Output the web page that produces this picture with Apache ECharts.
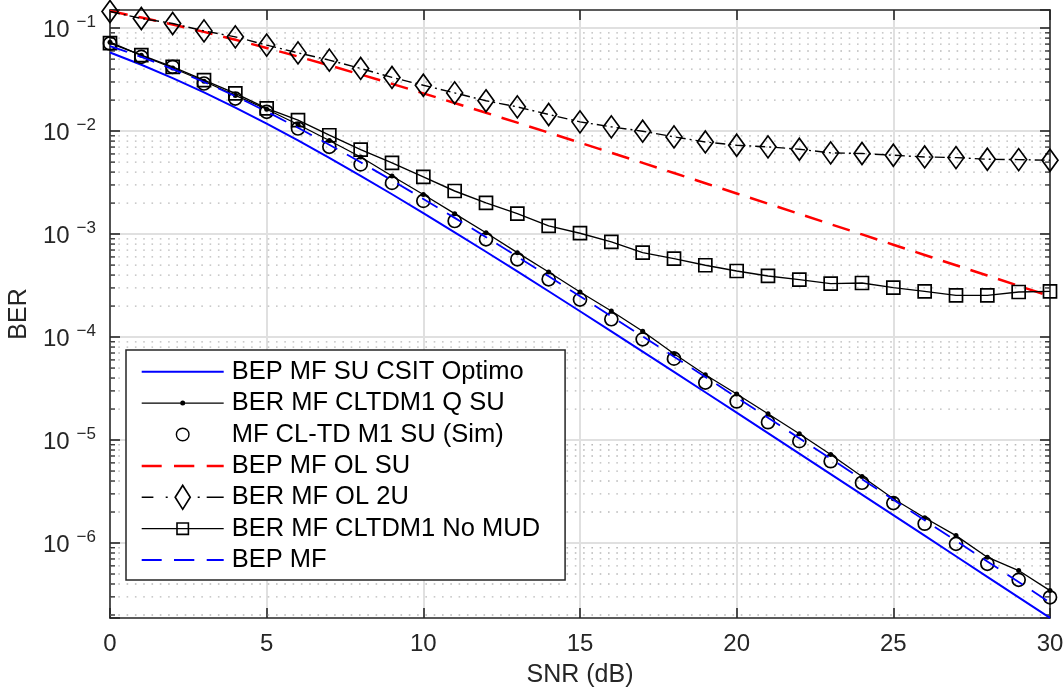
<!DOCTYPE html>
<html><head><meta charset="utf-8">
<script src="https://cdn.jsdelivr.net/npm/echarts@6/dist/echarts.min.js"></script>
<style>html,body{margin:0;padding:0;background:#fff}#c{width:1064px;height:688px}</style>
</head><body><div id="c"></div>
<script>
// ---------- data ----------
const snr = [0,1,2,3,4,5,6,7,8,9,10,11,12,13,14,15,16,17,18,19,20,21,22,23,24,25,26,27,28,29,30];

const bepSuCsitOptimo = [0.05806,0.044113,0.032754,0.023791,0.016932,0.011830,0.0081290,0.0055060,0.0036829,0.0024376,0.0015991,0.0010413,0.00067398,0.00043407,0.00027843,0.00017801,0.00011350,7.2220e-5,4.5885e-5,2.9105e-5,1.8443e-5,1.1675e-5,7.3870e-6,4.6705e-6,2.9520e-6,1.8652e-6,1.1781e-6,7.440e-7,4.6975e-7,2.9655e-7,1.8719e-7];

const berCltdm1QSu = [0.073,0.0545,0.041,0.0305,0.0222,0.0163,0.0116,0.0081,0.0056,0.00367,0.00242,0.00158,0.00103,0.00066,0.000428,0.000274,0.000179,0.000114,6.89e-5,4.3e-5,2.8e-5,1.8e-5,1.15e-5,7.24e-6,4.43e-6,2.69e-6,1.76e-6,1.18e-6,7.28e-7,5.40e-7,3.45e-7];

const mfCltdM1SuSim = [0.0710,0.0526,0.0421,0.0290,0.0207,0.0154,0.0106,0.00703,0.00475,0.00314,0.00210,0.00134,0.00089,0.000569,0.000364,0.000231,0.000149,9.5e-5,6.17e-5,3.61e-5,2.37e-5,1.49e-5,9.75e-6,6.23e-6,3.85e-6,2.44e-6,1.54e-6,9.81e-7,6.28e-7,4.39e-7,2.97e-7];

const bepMfOlSu = [0.146447,0.126734,0.108485,0.091913,0.077137,0.064183,0.052999,0.0434755,0.035459,0.0287825,0.0232687,0.0187485,0.0150645,0.0120775,0.009665,0.007723,0.0061635,0.0049145,0.003916,0.003118,0.0024815,0.001974,0.00157,0.00124825,0.0009923,0.0007887,0.0006268,0.00049808,0.00039576,0.00031444,0.00024981];

const berMfOl2u = [0.145,0.124,0.111,0.094,0.0823,0.0684,0.0575,0.0489,0.0406,0.0332,0.0279,0.0235,0.0197,0.0172,0.0145,0.0123,0.0110,0.00998,0.00879,0.00785,0.00729,0.00703,0.00667,0.00615,0.00606,0.00583,0.00561,0.00553,0.00533,0.00529,0.00521];

const berCltdm1NoMud = [0.0715,0.0547,0.0421,0.0313,0.0232,0.0166,0.0128,0.00912,0.0066,0.00491,0.00359,0.00262,0.00201,0.00158,0.00120,0.00102,0.00084,0.000661,0.000578,0.000498,0.000438,0.000392,0.000361,0.000330,0.000335,0.000302,0.000278,0.000254,0.000254,0.000274,0.000278];

const bepMf = [0.067,0.0525,0.0400,0.03000,0.02185,0.01548,0.01077,0.007373,0.004980,0.003322,0.002194,0.001437,0.000934,0.000604,0.0003886,0.0002489,0.0001591,0.0001014,6.450e-5,4.096e-5,2.597e-5,1.645e-5,1.041e-5,6.586e-6,4.164e-6,2.632e-6,1.663e-6,1.050e-6,6.632e-7,4.188e-7,2.644e-7];

const seriesNames = ['BEP MF SU CSIT Optimo','BER MF CLTDM1 Q SU','MF CL-TD M1 SU (Sim)','BEP MF OL SU','BER MF OL 2U','BER MF CLTDM1 No MUD','BEP MF'];

const xTicks = [0,5,10,15,20,25,30];
const yMin = 1.87e-7, yMax = 0.15;
const minorTicks = [2e-7,3e-7,4e-7,5e-7,6e-7,7e-7,8e-7,9e-7,
  2e-6,3e-6,4e-6,5e-6,6e-6,7e-6,8e-6,9e-6,
  2e-5,3e-5,4e-5,5e-5,6e-5,7e-5,8e-5,9e-5,
  2e-4,3e-4,4e-4,5e-4,6e-4,7e-4,8e-4,9e-4,
  2e-3,3e-3,4e-3,5e-3,6e-3,7e-3,8e-3,9e-3,
  2e-2,3e-2,4e-2,5e-2,6e-2,7e-2,8e-2,9e-2];

// ---------- styling ----------
const AX = '#262626';
const FONT = '"Liberation Sans", Arial, Helvetica, sans-serif';
const pairs = ys => snr.map((x, i) => [x, ys[i]]);

// legend icon paths (box 85 x 28, drawing in 0..82, centre y = 14)
const BOX = 'M0,0 M85,28 ';
const rect = (x0, y0, x1, y1) => `M${x0},${y0} L${x1},${y0} L${x1},${y1} L${x0},${y1} Z `;
const rectCCW = (x0, y0, x1, y1) => `M${x0},${y0} L${x0},${y1} L${x1},${y1} L${x1},${y0} Z `;
const circ = (cx, cy, r) => `M${cx + r},${cy} A${r},${r} 0 1,1 ${cx - r},${cy} A${r},${r} 0 1,1 ${cx + r},${cy} Z `;
const circCCW = (cx, cy, r) => `M${cx + r},${cy} A${r},${r} 0 1,0 ${cx - r},${cy} A${r},${r} 0 1,0 ${cx + r},${cy} Z `;
const dashes = (h) => rect(0, 14 - h, 20, 14 + h) + rect(32.3, 14 - h, 52.6, 14 + h) + rect(65, 14 - h, 82, 14 + h);
const icons = [
  'path://' + BOX + rect(0, 13, 82, 15),
  'path://' + BOX + rect(0, 13.4, 82, 14.6) + circ(41, 14, 2.5),
  'path://' + BOX + circ(41, 14, 7) + circCCW(41, 14, 5.6),
  'path://' + BOX + dashes(1.25),
  'path://' + BOX + rect(0, 13.3, 11.7, 14.7) + rect(24, 13.3, 26, 14.7) +
      'M41,0.5 L49.5,14 L41,27.5 L32.5,14 Z M41,3.6 L34.5,14 L41,24.4 L47.5,14 Z ' +
      rect(56, 13.3, 58, 14.7) + rect(65, 13.3, 82, 14.7),
  'path://' + BOX + rect(0, 13.4, 82, 14.6) + rect(34.5, 7.5, 47.5, 20.5) + rectCCW(36.1, 9.1, 45.9, 18.9),
  'path://' + BOX + dashes(1)
];
const iconColors = ['#0000ff', '#000000', '#000000', '#ff0000', '#000000', '#000000', '#0000ff'];

const hollow = { color: 'rgba(0,0,0,0)', borderColor: '#000', borderWidth: 1.7 };
const common = { type: 'line', silent: true, animation: false, emphasis: { disabled: true } };

const series = [
  Object.assign({}, common, { name: seriesNames[0], data: pairs(bepSuCsitOptimo), symbol: 'none', z: 3,
    lineStyle: { color: '#0000ff', width: 2 }, itemStyle: { color: '#0000ff' } }),
  Object.assign({}, common, { name: seriesNames[1], data: pairs(berCltdm1QSu), symbol: 'circle', symbolSize: 5, z: 4,
    lineStyle: { color: '#000', width: 1.3 }, itemStyle: { color: '#000' } }),
  Object.assign({}, common, { name: seriesNames[2], data: pairs(mfCltdM1SuSim), symbol: 'circle', symbolSize: 13, z: 5,
    lineStyle: { color: '#000', width: 0, opacity: 0 }, itemStyle: hollow }),
  Object.assign({}, common, { name: seriesNames[3], data: pairs(bepMfOlSu), symbol: 'none', z: 3,
    lineStyle: { color: '#ff0000', width: 2.5, type: [18, 11] }, itemStyle: { color: '#ff0000' } }),
  Object.assign({}, common, { name: seriesNames[4], data: pairs(berMfOl2u), symbol: 'diamond', symbolSize: [16, 22], z: 5,
    lineStyle: { color: '#000', width: 1.4, type: [10, 4, 2, 4] }, itemStyle: hollow }),
  Object.assign({}, common, { name: seriesNames[5], data: pairs(berCltdm1NoMud), symbol: 'rect', symbolSize: 13, z: 5,
    lineStyle: { color: '#000', width: 1.4 }, itemStyle: hollow }),
  Object.assign({}, common, { name: seriesNames[6], data: pairs(bepMf), symbol: 'none', z: 6,
    lineStyle: { color: '#0000ff', width: 1.8, type: [18, 11] }, itemStyle: { color: '#0000ff' } }),
  {
    type: 'custom', name: '__minor', silent: true, animation: false, z: 1, clip: false,
    data: minorTicks.map(v => [xTicks[0], v]),
    encode: { x: 0, y: 1 },
    renderItem: (params, api) => {
      const v = api.value(1);
      const a = api.coord([xTicks[0], v]);
      const b = api.coord([xTicks[xTicks.length - 1], v]);
      return { type: 'group', children: [
        { type: 'line', shape: { x1: a[0], y1: a[1], x2: b[0], y2: b[1] },
          style: { stroke: '#b9b9b9', lineWidth: 1.3, lineDash: [1.6, 6.7] } },
        { type: 'line', shape: { x1: a[0], y1: a[1], x2: a[0] + 5, y2: a[1] },
          style: { stroke: AX, lineWidth: 1.3 } },
        { type: 'line', shape: { x1: b[0] - 5, y1: b[1], x2: b[0], y2: b[1] },
          style: { stroke: AX, lineWidth: 1.3 } }
      ] };
    }
  }
];

const axisLine = { show: true, onZero: false, lineStyle: { color: AX, width: 1.6 } };
const axisTick = { show: true, inside: true, length: 10, lineStyle: { color: AX, width: 1.6 } };
const majorGrid = { show: true, showMinLine: false, showMaxLine: false, lineStyle: { color: '#e0e0e0', width: 2 } };

const yLabelFmt = v => {
  const e = Math.log10(v), r = Math.round(e);
  if (Math.abs(e - r) > 1e-6) return '';
  return '{b|10}{s|\u2212' + (-r) + '}';
};

const option = {
  animation: false,
  backgroundColor: '#fff',
  grid: { left: 110, right: 14, top: 10, bottom: 70, outerBoundsMode: 'none', containLabel: false },
  xAxis: [
    { type: 'value', min: xTicks[0], max: xTicks[xTicks.length - 1], interval: xTicks[1] - xTicks[0], position: 'bottom',
      axisLine, axisTick, splitLine: majorGrid,
      axisLabel: { color: AX, fontFamily: FONT, fontSize: 24, margin: 14 },
      name: 'SNR (dB)', nameLocation: 'middle', nameGap: 45,
      nameTextStyle: { color: AX, fontFamily: FONT, fontSize: 25 } },
    { type: 'value', min: xTicks[0], max: xTicks[xTicks.length - 1], interval: xTicks[1] - xTicks[0], position: 'top',
      axisLine, axisTick, splitLine: { show: false }, axisLabel: { show: false } }
  ],
  yAxis: [
    { type: 'log', logBase: 10, min: yMin, max: yMax, position: 'left',
      axisLine, axisTick, splitLine: majorGrid,
      axisLabel: { formatter: yLabelFmt, margin: 14, color: AX,
        rich: {
          b: { fontSize: 24, fontFamily: FONT, color: AX, padding: [5, 0, 0, 0], verticalAlign: 'bottom' },
          s: { fontSize: 17, fontFamily: FONT, color: AX, padding: [0, 0, 10, 7], verticalAlign: 'top' }
        } },
      name: 'BER', nameLocation: 'middle', nameGap: 76,
      nameTextStyle: { color: AX, fontFamily: FONT, fontSize: 25 } },
    { type: 'log', logBase: 10, min: yMin, max: yMax, position: 'right',
      axisLine, axisTick, splitLine: { show: false }, axisLabel: { show: false } }
  ],
  legend: {
    orient: 'vertical', left: 126, top: 350,
    itemWidth: 85, itemHeight: 28, itemGap: 3.4,
    padding: [7.7, 25, 6, 15.7],
    backgroundColor: '#fff', borderColor: AX, borderWidth: 1.5, borderRadius: 0,
    textStyle: { fontFamily: FONT, fontSize: 25.5, color: '#000' },
    selectedMode: false,
    itemStyle: { borderWidth: 0 },
    data: seriesNames.map((n, i) => ({ name: n, icon: icons[i], itemStyle: { color: iconColors[i], borderWidth: 0 } }))
  },
  series
};

const chart = echarts.init(document.getElementById('c'), null, { renderer: 'canvas' });
chart.setOption(option);
</script>
</body></html>
